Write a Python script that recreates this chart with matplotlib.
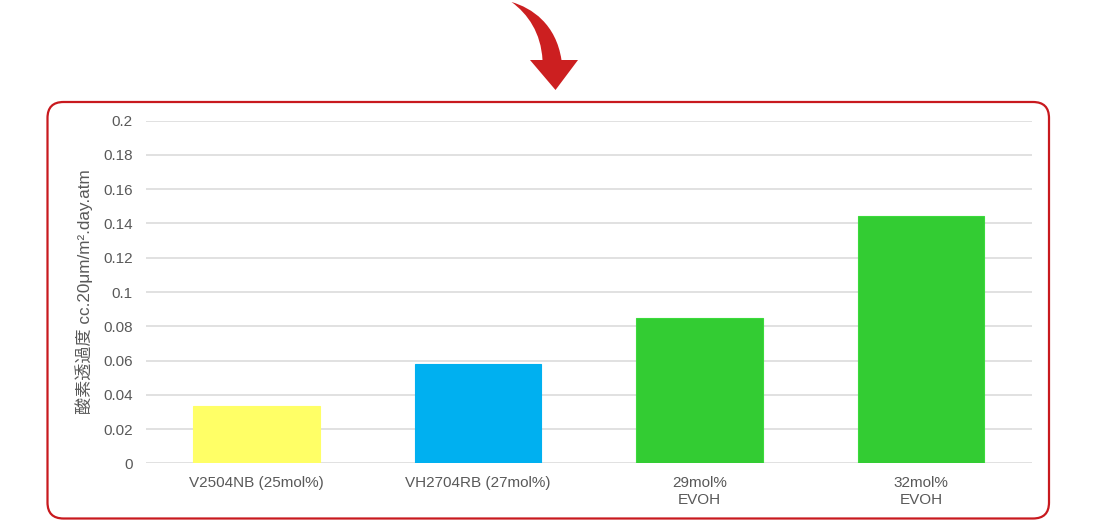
import matplotlib
matplotlib.use("Agg")
import matplotlib.pyplot as plt
from matplotlib.patches import FancyBboxPatch, PathPatch
from matplotlib.path import Path

plt.rcParams['font.family'] = ['Liberation Sans', 'Noto Sans CJK JP', 'DejaVu Sans']

categories = ["V2504NB (25mol%)", "VH2704RB (27mol%)", "29mol%\nEVOH", "32mol%\nEVOH"]
values = [0.0334, 0.058, 0.0846, 0.1445]
colors = ["#FFFF66", "#00B0F0", "#33CC33", "#33CC33"]
edgecolors = ["#FFFF66", "#00B0F0", "#3ADB3A", "#3ADB3A"]
yticks = [0, 0.02, 0.04, 0.06, 0.08, 0.1, 0.12, 0.14, 0.16, 0.18, 0.2]
ytick_labels = ["0", "0.02", "0.04", "0.06", "0.08", "0.1", "0.12", "0.14", "0.16", "0.18", "0.2"]
ylabel = "酸素透過度 cc.20μm/m².day.atm"

W, H = 1110, 522
fig = plt.figure(figsize=(W / 100, H / 100), dpi=100)

# decoration overlay in pixel coordinates
deco = fig.add_axes([0, 0, 1, 1], zorder=0)
deco.set_xlim(0, W)
deco.set_ylim(H, 0)
deco.axis("off")

red = "#C8191E"
box = FancyBboxPatch((47.5 + 16, 102 + 16), 1049 - 47.5 - 32, 518.5 - 102 - 32,
                     boxstyle="round,pad=16", fc="white", ec=red, lw=1.6)
deco.add_patch(box)

# curved arrow
verts = [
    (511.5, 2.0),                                   # tail tip
    (532, 8), (556, 24), (561.5, 60),               # right edge curve
    (578, 60),                                      # head right
    (555.5, 90),                                    # head tip
    (530, 60),                                      # head left
    (542.5, 60),                                    # shaft left bottom
    (541, 33), (528, 14), (511.5, 2.0),             # left edge curve back
    (511.5, 2.0),
]
codes = [Path.MOVETO,
         Path.CURVE4, Path.CURVE4, Path.CURVE4,
         Path.LINETO, Path.LINETO, Path.LINETO, Path.LINETO,
         Path.CURVE4, Path.CURVE4, Path.CURVE4,
         Path.CLOSEPOLY]
deco.add_patch(PathPatch(Path(verts, codes), fc="#CC1F20", ec="none"))

# chart
ax = fig.add_axes([146 / W, 1 - 463.3 / H, (1031.7 - 146) / W, (463.3 - 120.7) / H], zorder=1)
ax.patch.set_alpha(0)
x = range(len(categories))
ax.bar(x, values, width=0.571, color=colors, edgecolor=edgecolors, linewidth=0.8, zorder=3)
ax.set_xlim(-0.5, len(categories) - 0.5)
ax.set_ylim(0, 0.2)
ax.set_yticks(yticks)
ax.set_yticklabels(ytick_labels)
ax.set_xticks(list(x))
ax.set_xticklabels(categories, linespacing=1.3)
ax.yaxis.grid(True, color="#D9D9D9", linewidth=1.1, zorder=0)
for s in ax.spines.values():
    s.set_visible(False)
ax.tick_params(axis="both", length=0, labelsize=11, labelcolor="#595959")
ax.tick_params(axis="y", pad=9.5)
ax.tick_params(axis="x", pad=9)
ax.set_ylabel(ylabel, fontsize=12.3, color="#595959", labelpad=7)

fig.savefig("out.png", dpi=100)
